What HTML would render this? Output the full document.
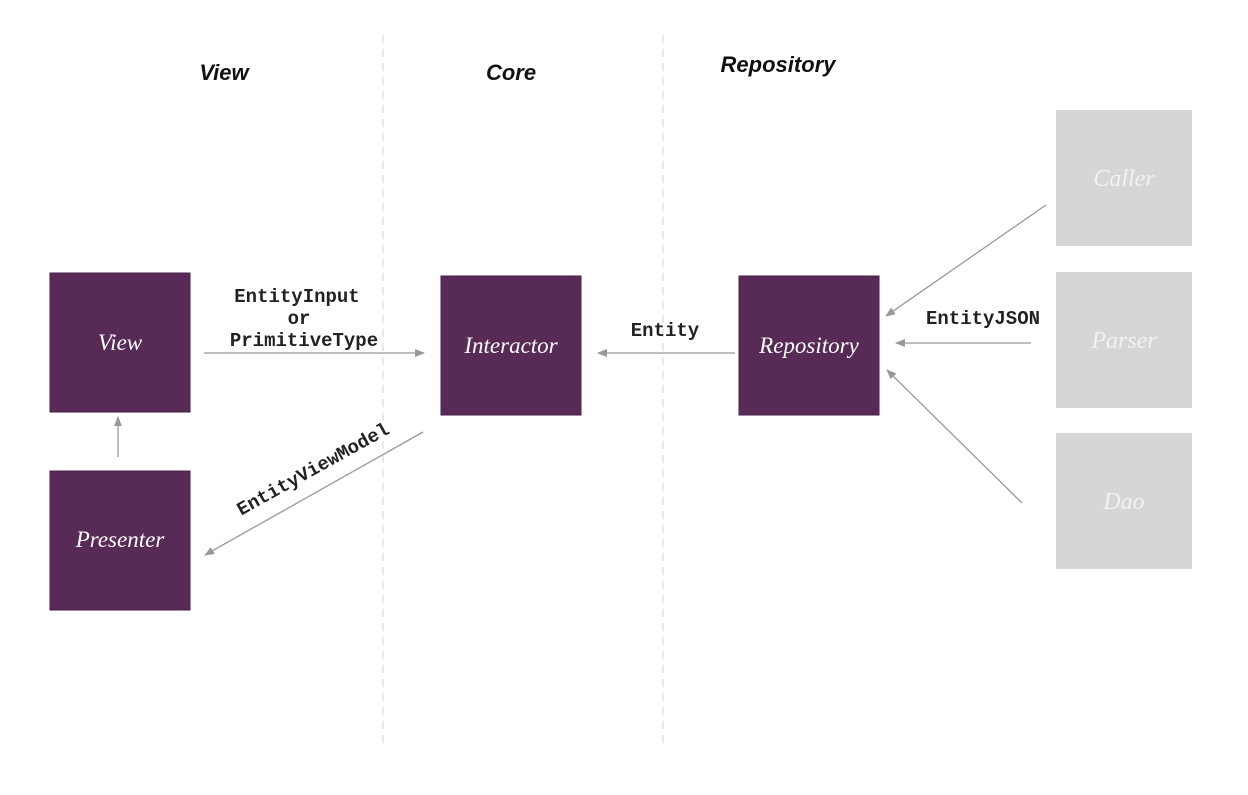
<!DOCTYPE html>
<html><head><meta charset="utf-8"><style>
body{margin:0;background:#fff}
svg{display:block}
.h{font-family:"Liberation Sans",sans-serif;font-style:italic;font-weight:bold;font-size:22px;fill:#111}
.b{font-family:"Liberation Serif",serif;font-style:italic;font-size:23px;fill:#fff}
.g{font-family:"Liberation Serif",serif;font-style:italic;font-size:24px;fill:#f2f2f2}
.m{font-family:"Liberation Mono",monospace;font-weight:bold;font-size:19px;fill:#222}
</style></head><body>
<svg width="1248" height="795" viewBox="0 0 1248 795" xmlns="http://www.w3.org/2000/svg">
<defs><marker id="a" markerWidth="10" markerHeight="10" refX="9" refY="5" orient="auto" markerUnits="userSpaceOnUse"><path d="M0,1 L10,5 L0,9 z" fill="#999"/></marker></defs>
<line x1="383" y1="35" x2="383" y2="745" stroke="#ddd" stroke-width="1.3" stroke-dasharray="8,6"/>
<line x1="663" y1="35" x2="663" y2="745" stroke="#ddd" stroke-width="1.3" stroke-dasharray="8,6"/>
<text class="h" x="224" y="80" text-anchor="middle">View</text>
<text class="h" x="511" y="80" text-anchor="middle">Core</text>
<text class="h" x="778" y="72" text-anchor="middle">Repository</text>
<g fill="#582a56" stroke="#4a2048">
<rect x="50" y="273" width="140" height="139"/>
<rect x="50" y="471" width="140" height="139"/>
<rect x="441" y="276" width="140" height="139"/>
<rect x="739" y="276" width="140" height="139"/>
</g>
<g fill="#d6d6d6">
<rect x="1056" y="110" width="136" height="136"/>
<rect x="1056" y="272" width="136" height="136"/>
<rect x="1056" y="433" width="136" height="136"/>
</g>
<text class="b" x="120" y="350" text-anchor="middle">View</text>
<text class="b" x="120" y="547" text-anchor="middle">Presenter</text>
<text class="b" x="511" y="353" text-anchor="middle">Interactor</text>
<text class="b" x="809" y="353" text-anchor="middle">Repository</text>
<text class="g" x="1124" y="186" text-anchor="middle">Caller</text>
<text class="g" x="1124" y="348" text-anchor="middle">Parser</text>
<text class="g" x="1124" y="509" text-anchor="middle">Dao</text>
<g stroke="#999" stroke-width="1.3" marker-end="url(#a)">
<line x1="204" y1="353" x2="424" y2="353"/>
<line x1="735" y1="353" x2="598" y2="353"/>
<line x1="118" y1="457" x2="118" y2="417"/>
<line x1="423" y1="432" x2="205" y2="555"/>
<line x1="1046" y1="205" x2="886" y2="316"/>
<line x1="1031" y1="343" x2="896" y2="343"/>
<line x1="1022" y1="503" x2="887" y2="370"/>
</g>
<text class="m" x="297" y="302" text-anchor="middle">EntityInput</text>
<text class="m" x="299" y="324" text-anchor="middle">or</text>
<text class="m" x="304" y="346" text-anchor="middle">PrimitiveType</text>
<text class="m" x="665" y="336" text-anchor="middle">Entity</text>
<text class="m" x="983" y="324" text-anchor="middle">EntityJSON</text>
<text class="m" x="313" y="475" text-anchor="middle" transform="rotate(-29 313 469)">EntityViewModel</text>
</svg>
</body></html>
